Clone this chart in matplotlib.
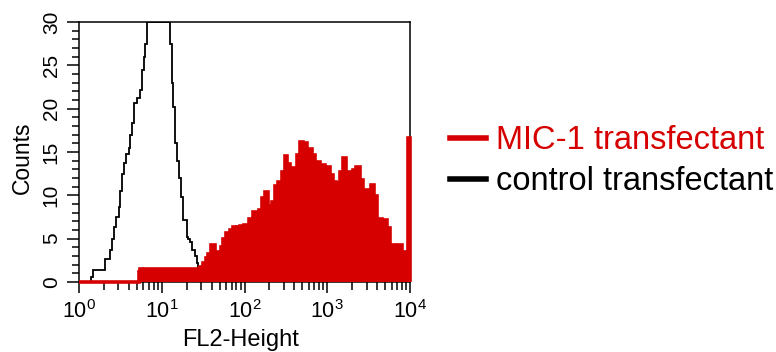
import numpy as np
import matplotlib
matplotlib.use('Agg')
import matplotlib.pyplot as plt
from matplotlib.lines import Line2D
from matplotlib.ticker import MultipleLocator, LogLocator, NullFormatter

plt.rcParams['font.family'] = ['Liberation Sans', 'DejaVu Sans']

# histogram channels: edges (log10 of FL2-Height) and counts per channel
red_edges = [0.00, 0.72, 0.74, 0.76, 0.78, 0.80, 1.46, 1.50, 1.53, 1.56, 1.60,
             1.64, 1.68, 1.72, 1.74, 1.78, 1.82, 1.86, 1.88, 1.91, 1.95, 1.99,
             2.05, 2.10, 2.17, 2.21, 2.25, 2.29, 2.33, 2.37, 2.41, 2.45, 2.49,
             2.51, 2.55, 2.59, 2.63, 2.67, 2.71, 2.75, 2.81, 2.85, 2.91, 2.97,
             3.03, 3.07, 3.11, 3.15, 3.19, 3.23, 3.27, 3.31, 3.35, 3.39, 3.43,
             3.49, 3.53, 3.56, 3.60, 3.66, 3.72, 3.76, 3.82, 3.86, 3.90, 3.94,
             3.975, 4.0]
red_counts = [0.0, 1.2, 1.5, 1.1, 1.3, 1.5, 1.7, 2.2, 2.8, 3.2, 4.3,
              3.5, 2.8, 4.0, 5.0, 5.6, 6.0, 6.3, 5.5, 6.3, 6.5, 6.6,
              7.3, 8.1, 8.3, 9.7, 10.4, 8.8, 9.2, 11.1, 11.5, 12.7, 14.5,
              13.6, 12.3, 13.1, 14.6, 16.2, 16.0, 15.3, 14.7, 13.9, 13.5, 13.3,
              12.3, 11.5, 11.4, 12.7, 14.3, 12.7, 12.0, 12.9, 13.3, 11.8, 10.6,
              10.6, 11.2, 9.9, 7.3, 7.1, 6.2, 4.3, 4.1, 4.3, 3.5, 3.1,
              16.6]

black_edges = [0.00, 0.15, 0.17, 0.31, 0.37, 0.40, 0.42, 0.45, 0.48, 0.50, 0.52,
               0.54, 0.57, 0.60, 0.62, 0.64, 0.66, 0.70, 0.74, 0.76, 0.78, 0.80,
               0.82, 1.10, 1.12, 1.14, 1.16, 1.18, 1.21, 1.23, 1.26, 1.30, 1.32,
               1.34, 1.37, 1.40, 1.42, 1.44, 1.48, 1.50, 1.55, 1.60]
black_counts = [0.0, 0.6, 1.4, 2.7, 3.7, 5.0, 6.4, 7.5, 8.7, 10.5, 12.5,
                13.7, 14.8, 15.5, 17.0, 18.3, 20.6, 21.2, 22.2, 24.5, 26.0, 27.5,
                30.0, 27.5, 23.0, 20.2, 16.0, 14.0, 12.0, 9.8, 7.2, 5.2,
                5.0, 4.6, 3.7, 3.0, 2.2, 1.6, 0.8, 0.3, 0.0]

labels = ['MIC-1 transfectant', 'control transfectant']
red = '#d60000'

fig = plt.figure(figsize=(7.76, 3.52), dpi=100)
ax = fig.add_axes([79/776, 1-282/352, 331/776, 260/352])

xr = 10 ** np.array(red_edges)
xb = 10 ** np.array(black_edges)
ax.stairs(black_counts, xb, color='black', lw=1.3, zorder=2)
ax.stairs(red_counts, xr, fill=True, color=red, lw=0, zorder=3)
ax.stairs(red_counts, xr, color=red, lw=2.6, zorder=3, clip_on=False)

ax.set_xscale('log')
ax.set_xlim(1, 1e4)
ax.set_ylim(0, 30)
ax.yaxis.set_major_locator(MultipleLocator(5))
ax.yaxis.set_minor_locator(MultipleLocator(1))
ax.xaxis.set_major_locator(LogLocator(base=10, numticks=10))
ax.xaxis.set_minor_locator(LogLocator(base=10, subs=np.arange(2, 10), numticks=20))
ax.xaxis.set_minor_formatter(NullFormatter())

ax.tick_params(axis='y', which='major', direction='out', length=8.6, width=1.1,
               pad=4.5, labelsize=15, labelrotation=90)
ax.tick_params(axis='y', which='minor', direction='out', length=5, width=1.1)
ax.tick_params(axis='x', which='major', direction='out', length=8, width=1.1,
               pad=5, labelsize=15.5)
ax.tick_params(axis='x', which='minor', direction='out', length=5.5, width=1.1)
for lab in ax.get_yticklabels():
    lab.set_va('center')
for s in ax.spines.values():
    s.set_linewidth(1.1)

ax.set_xlabel('FL2-Height', fontsize=17)
ax.set_ylabel('Counts', fontsize=16.5)
ax.xaxis.set_label_coords(0.489, -0.18)
ax.yaxis.set_label_coords(-0.136, 0.479)

handles = [Line2D([], [], color=red, lw=4), Line2D([], [], color='black', lw=4)]
leg = fig.legend(handles, labels, loc='upper left', bbox_to_anchor=(450/776, 1-125/352),
                 frameon=False, fontsize=23.5, handlelength=1.1, handletextpad=0.3,
                 borderpad=0, borderaxespad=0, labelspacing=0.32)
leg.get_texts()[0].set_color(red)

fig.savefig('out.png', dpi=100)
